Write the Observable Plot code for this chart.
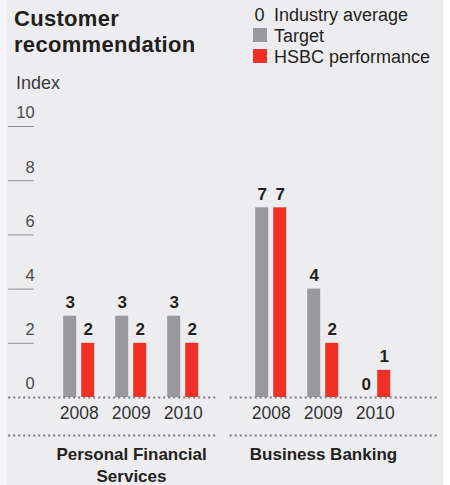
<!DOCTYPE html>
<html>
<head>
<meta charset="utf-8">
<script src="https://cdn.jsdelivr.net/npm/d3@7"></script>
<script src="https://cdn.jsdelivr.net/npm/@observablehq/plot@0.6"></script>
<style>
  html, body { margin: 0; padding: 0; background: #ffffff; }
  #panel { position: relative; width: 436px; height: 485px; margin-left: 7px; background: #ededf0; font-family: "Liberation Sans", Arial, sans-serif; color: #231f20; overflow: hidden; }
  #strip { position: absolute; left: 0; top: 0; width: 7px; height: 485px; background: #f4f4f6; }
  #header { position: relative; height: 95px; }
  #title { position: absolute; left: 7px; top: 6px; font-weight: bold; font-size: 22px; letter-spacing: 0.3px; line-height: 26px; margin: 0; }
  #legend { position: absolute; left: 245px; top: 5px; font-size: 18px; line-height: 21px; }
  #legend .row { display: flex; align-items: center; height: 21px; }
  #legend .key { width: 15px; margin-right: 7px; text-align: center; }
  #legend .sw { display: inline-block; width: 14px; height: 14px; }
  #index { position: absolute; left: 9px; top: 73px; font-size: 18px; color: #3a3a3a; }
  #chart { position: absolute; left: -7px; top: 95px; }
  svg { background: transparent; overflow: visible; }
</style>
</head>
<body>
<div id="strip"></div>
<div id="panel">
  <div id="header">
    <div id="title">Customer<br>recommendation</div>
    <div id="legend"></div>
    <div id="index">Index</div>
  </div>
  <div id="chart"></div>
</div>
<script>
// ---- data ----
const segments = ["Personal Financial Services", "Business Banking"];
const segmentLabels = ["Personal Financial\nServices", "Business Banking"];
const years = ["2008", "2009", "2010"];
const targetValues = [[3, 3, 3], [7, 4, 0]];
const hsbcValues = [[2, 2, 2], [7, 2, 1]];
const yTicks = [0, 2, 4, 6, 8, 10];
const legendItems = ["Industry average", "Target", "HSBC performance"];
const colors = { target: "#99989d", hsbc: "#ee3124" };

// ---- build rows ----
const rows = [];
segments.forEach((seg, i) => years.forEach((yr, j) => rows.push({
  seg, year: yr, target: targetValues[i][j], hsbc: hsbcValues[i][j]
})));
const segRows = segments.map((seg, i) => ({ seg, label: segmentLabels[i] }));

// ---- legend ----
const legend = document.getElementById("legend");
legend.innerHTML =
  `<div class="row"><span class="key">0</span><span>${legendItems[0]}</span></div>` +
  `<div class="row"><span class="key"><span class="sw" style="background:${colors.target}"></span></span><span>${legendItems[1]}</span></div>` +
  `<div class="row"><span class="key"><span class="sw" style="background:${colors.hsbc}"></span></span><span>${legendItems[2]}</span></div>`;

// ---- layout constants ----
const W = 443, H = 390;
const mL = 34.8, mR = 23.2;
const facetW = (W - mL - mR) / 2;
const tickX0 = 8, tickX1 = 34;
const dotted = { stroke: "#7b7b80", strokeWidth: 2, strokeDasharray: "2 3" };

const chart = Plot.plot({
  width: W,
  height: H,
  marginLeft: mL,
  marginRight: mR,
  marginTop: 31,
  marginBottom: 88,
  style: { fontFamily: "'Liberation Sans', Arial, sans-serif", background: "transparent", overflow: "visible" },
  fx: { domain: segments, padding: 0, axis: null },
  x: { domain: years, paddingInner: 0.396, paddingOuter: 0.514, axis: null },
  y: { domain: [0, 10], axis: null },
  marks: [
    // y tick lines (left facet only)
    Plot.ruleY(yTicks.filter(v => v > 0), {
      y: d => d, fx: () => segments[0],
      insetLeft: -(mL - tickX0), insetRight: facetW - (tickX1 - mL),
      stroke: "#8c8c8e", strokeWidth: 1
    }),
    Plot.text(yTicks, {
      y: d => d, fx: () => segments[0], text: d => String(d),
      frameAnchor: "left", dx: tickX1 - mL, dy: -13.3, textAnchor: "end",
      fontSize: 16.5, fill: "#4a4a4c"
    }),
    // bars
    Plot.barY(rows, { fx: "seg", x: "year", y: "target", fill: colors.target, insetRight: 18 }),
    Plot.barY(rows, { fx: "seg", x: "year", y: "hsbc", fill: colors.hsbc, insetLeft: 18 }),
    // value labels
    Plot.text(rows, { fx: "seg", x: "year", y: "target", text: d => String(d.target), dx: -9, dy: -13.4, fontSize: 17, fontWeight: "bold", fill: "#231f20" }),
    Plot.text(rows, { fx: "seg", x: "year", y: "hsbc", text: d => String(d.hsbc), dx: 9, dy: -13.4, fontSize: 17, fontWeight: "bold", fill: "#231f20" }),
    // dotted baselines
    Plot.ruleY([0], { fx: () => segments[0], insetLeft: -(mL - tickX0), insetRight: 10.3, ...dotted }),
    Plot.ruleY([0], { fx: () => segments[1], insetLeft: 2.7, insetRight: -19.5, ...dotted }),
    Plot.ruleY([0], { fx: () => segments[0], insetLeft: -(mL - tickX0), insetRight: 10.3, dy: 38, ...dotted }),
    Plot.ruleY([0], { fx: () => segments[1], insetLeft: 2.7, insetRight: -19.5, dy: 38, ...dotted }),
    // year labels
    Plot.text(rows, { fx: "seg", x: "year", text: "year", frameAnchor: "bottom", dy: 21, fontSize: 17.5, fill: "#333335" }),
    // segment labels
    Plot.text(segRows, { fx: "seg", text: "label", frameAnchor: "bottom", lineAnchor: "top", dy: 48, lineHeight: 1.24, fontSize: 17, fontWeight: "bold", fill: "#231f20" })
  ]
});
document.getElementById("chart").appendChild(chart);
</script>
</body>
</html>
